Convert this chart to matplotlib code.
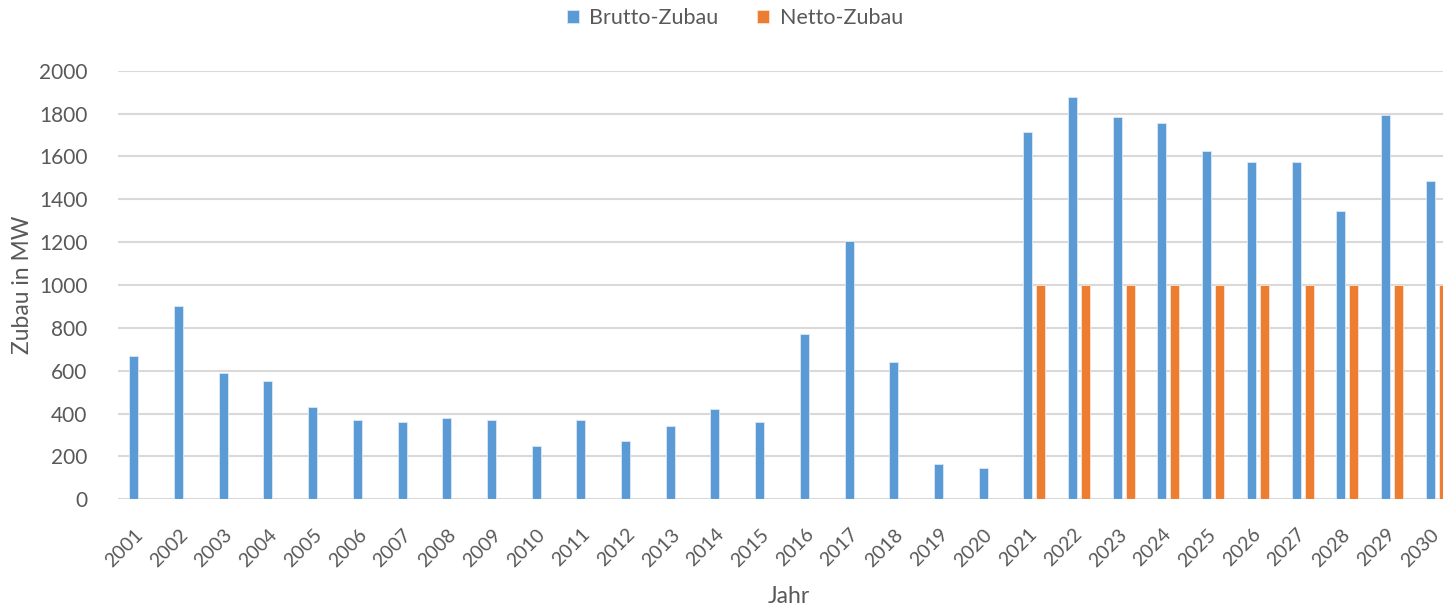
import numpy as np
import matplotlib
matplotlib.use("Agg")
import matplotlib.pyplot as plt
import matplotlib.transforms as mtransforms

# Daten
jahre = [str(j) for j in range(2001, 2031)]
brutto = [670, 900, 590, 550, 430, 370, 360, 380, 370, 250,
          370, 270, 340, 420, 360, 770, 1205, 640, 165, 145,
          1715, 1875, 1785, 1755, 1625, 1575, 1575, 1345, 1795, 1485]
netto = [0] * 20 + [1000] * 10

plt.rcParams['font.family'] = ['Lato', 'DejaVu Sans']
grau = "#595959"

fig = plt.figure(figsize=(14.43, 6.08), dpi=100)
# Achse reicht rechts etwas ueber das Bild hinaus (wie im Original abgeschnitten)
ax = fig.add_axes([118 / 1443, 1 - 499.3 / 608, 1341 / 1443, 428.6 / 608])

x = np.arange(len(jahre))
b = 0.2
ax.bar(x - 0.145, brutto, b, color="#5B9BD5", edgecolor="#dbe8f5", linewidth=0.6,
       label="Brutto-Zubau", zorder=3)
ax.bar(x + 0.145, netto, b, color="#ED7D31", edgecolor="#fbe3d3", linewidth=0.6,
       label="Netto-Zubau", zorder=3)

ax.set_xlim(-0.5, len(jahre) - 0.5)
ax.set_ylim(0, 2000)
ax.set_yticks(range(0, 2001, 200))
ax.yaxis.grid(True, color="#D9D9D9", linewidth=1.5, zorder=0)
ax.set_axisbelow(True)
for s in ax.spines.values():
    s.set_visible(False)
ax.tick_params(axis="both", length=0, colors=grau)
ax.tick_params(axis="y", pad=22, labelsize=15)
ax.set_xticks(x)
ax.set_xticklabels(jahre, rotation=45, ha="right", rotation_mode="anchor")
ax.tick_params(axis="x", pad=19, labelsize=14)

# Jahreszahlen etwas nach links schieben
verschiebung = mtransforms.ScaledTranslation(-6 / 100, 0, fig.dpi_scale_trans)
for lbl in ax.get_xticklabels():
    lbl.set_transform(lbl.get_transform() + verschiebung)

ax.set_ylabel("Zubau in MW", fontsize=16.5, color=grau)
ax.yaxis.set_label_coords(-0.0634, 0.5)
ax.set_xlabel("Jahr", fontsize=16.5, color=grau, labelpad=12)

fig.legend(loc="center", bbox_to_anchor=(735 / 1443, 1 - 18 / 608), ncol=2,
           frameon=False, fontsize=15.5, labelcolor=grau, handlelength=0.55,
           handleheight=0.55, columnspacing=1.8, handletextpad=0.5)

fig.savefig("out.png", dpi=100)
